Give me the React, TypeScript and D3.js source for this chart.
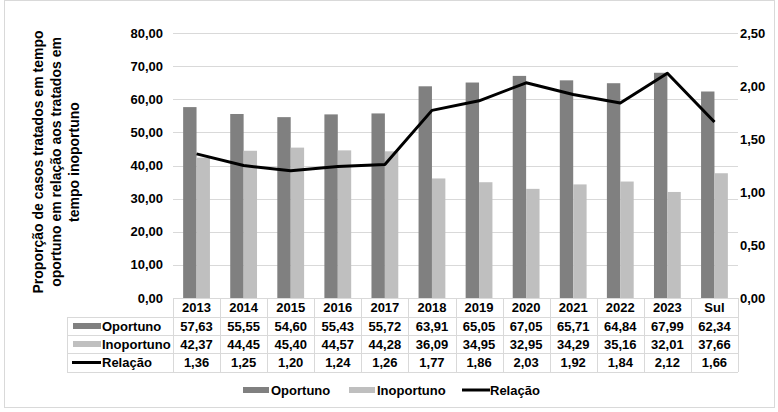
import React, { useEffect, useRef } from 'react';
import * as d3 from 'd3';

const categories = ['2013', '2014', '2015', '2016', '2017', '2018', '2019', '2020', '2021', '2022', '2023', 'Sul'];
const oportuno = [57.63, 55.55, 54.6, 55.43, 55.72, 63.91, 65.05, 67.05, 65.71, 64.84, 67.99, 62.34];
const inoportuno = [42.37, 44.45, 45.4, 44.57, 44.28, 36.09, 34.95, 32.95, 34.29, 35.16, 32.01, 37.66];
const relacao = [1.36, 1.25, 1.2, 1.24, 1.26, 1.77, 1.86, 2.03, 1.92, 1.84, 2.12, 1.66];
const leftTicks = [0, 10, 20, 30, 40, 50, 60, 70, 80];
const rightTicks = [0, 0.5, 1, 1.5, 2, 2.5];
const titleLines = ['Proporção de casos tratados em tempo', 'oportuno em relação aos tratados em', 'tempo inoportuno'];

const W = 778;
const H = 412;
const plotL = 173;
const plotR = 738;
const plotT = 33;
const plotB = 298;
const FONT = '"Liberation Sans", Arial, Helvetica, sans-serif';
const DARK = '#808080';
const LIGHT = '#bfbfbf';
const GRID = '#d9d9d9';

const fmt = (v: number) => v.toFixed(2).replace('.', ',');

const App = () => {
  const svgRef = useRef<SVGSVGElement>(null);

  useEffect(() => {
    const svg = d3.select(svgRef.current);
    svg.selectAll('*').remove();

    const x = d3.scaleBand().domain(categories).range([plotL, plotR]).padding(0);
    const y = d3.scaleLinear().domain([0, 80]).range([plotB, plotT]);
    const y2 = d3.scaleLinear().domain([0, 2.5]).range([plotB, plotT]);
    const bw = 13.4;

    // outer frame
    svg.append('rect').attr('x', 4.5).attr('y', 0.5).attr('width', 770).attr('height', 407)
      .attr('fill', '#fff').attr('stroke', '#d9d9d9');

    // grid
    svg.append('g').selectAll('line').data(leftTicks.filter((d) => d > 0)).join('line')
      .attr('x1', plotL).attr('x2', plotR)
      .attr('y1', (d) => Math.round(y(d)) + 0.5).attr('y2', (d) => Math.round(y(d)) + 0.5)
      .attr('stroke', GRID);

    // left axis labels
    svg.append('g').selectAll('text').data(leftTicks).join('text')
      .attr('x', 163).attr('y', (d) => y(d)).attr('dy', '0.35em')
      .attr('text-anchor', 'end').attr('font-size', 13).attr('font-weight', 'bold')
      .attr('font-family', FONT).text((d) => fmt(d));

    // right axis labels
    svg.append('g').selectAll('text').data(rightTicks).join('text')
      .attr('x', 740).attr('y', (d) => y2(d)).attr('dy', '0.35em')
      .attr('text-anchor', 'start').attr('font-size', 13).attr('font-weight', 'bold')
      .attr('font-family', FONT).text((d) => fmt(d));

    // title
    const t = svg.append('text').attr('transform', 'translate(38,162) rotate(-90)')
      .attr('text-anchor', 'middle').attr('font-size', 14).attr('font-weight', 'bold')
      .attr('font-family', FONT);
    titleLines.forEach((l, i) => {
      t.append('tspan').attr('x', 0).attr('dy', i === 0 ? '0.35em' : 18).text(l);
    });

    // bars
    const bars = svg.append('g');
    bars.selectAll('rect.op').data(categories).join('rect')
      .attr('x', (d) => x(d)! + x.bandwidth() / 2 - bw)
      .attr('width', bw)
      .attr('y', (d, i) => y(oportuno[i]))
      .attr('height', (d, i) => plotB - y(oportuno[i]))
      .attr('fill', DARK);
    bars.selectAll('rect.in').data(categories).join('rect')
      .attr('x', (d) => x(d)! + x.bandwidth() / 2)
      .attr('width', bw)
      .attr('y', (d, i) => y(inoportuno[i]))
      .attr('height', (d, i) => plotB - y(inoportuno[i]))
      .attr('fill', LIGHT);

    // line
    const line = d3.line<number>()
      .x((d, i) => x(categories[i])! + x.bandwidth() / 2)
      .y((d) => y2(d));
    svg.append('path').datum(relacao).attr('d', line).attr('fill', 'none')
      .attr('stroke', '#000').attr('stroke-width', 3).attr('stroke-linejoin', 'round');

    // data table
    const rowY = [298, 317, 335, 353, 372];
    const tableL = 67;
    const tbl = svg.append('g');
    // horizontal borders
    tbl.append('line').attr('x1', plotL).attr('x2', plotR).attr('y1', rowY[0] + 0.5).attr('y2', rowY[0] + 0.5).attr('stroke', GRID);
    rowY.slice(1).forEach((ry) => {
      tbl.append('line').attr('x1', tableL).attr('x2', plotR).attr('y1', ry + 0.5).attr('y2', ry + 0.5).attr('stroke', GRID);
    });
    // vertical borders
    const edges = categories.map((c) => x(c)!).concat([plotR]);
    tbl.selectAll('line.v').data(edges).join('line')
      .attr('x1', (d) => Math.round(d) + 0.5).attr('x2', (d) => Math.round(d) + 0.5)
      .attr('y1', rowY[0]).attr('y2', rowY[4]).attr('stroke', GRID);
    tbl.append('line').attr('x1', tableL + 0.5).attr('x2', tableL + 0.5)
      .attr('y1', rowY[1]).attr('y2', rowY[4]).attr('stroke', GRID);

    const rows: (string[])[] = [
      categories,
      oportuno.map(fmt),
      inoportuno.map(fmt),
      relacao.map(fmt),
    ];
    rows.forEach((r, ri) => {
      tbl.append('g').selectAll('text').data(r).join('text')
        .attr('x', (d, i) => x(categories[i])! + x.bandwidth() / 2)
        .attr('y', (rowY[ri] + rowY[ri + 1]) / 2).attr('dy', '0.36em')
        .attr('text-anchor', 'middle').attr('font-size', 13).attr('font-weight', 'bold')
        .attr('font-family', FONT).text((d) => d);
    });

    const series = [
      { name: 'Oportuno', color: DARK, type: 'bar' },
      { name: 'Inoportuno', color: LIGHT, type: 'bar' },
      { name: 'Relação', color: '#000', type: 'line' },
    ];
    series.forEach((s, i) => {
      const cy = (rowY[i + 1] + rowY[i + 2]) / 2;
      if (s.type === 'bar') {
        tbl.append('rect').attr('x', 73).attr('y', cy - 3).attr('width', 28).attr('height', 6).attr('fill', s.color);
      } else {
        tbl.append('line').attr('x1', 72).attr('x2', 101).attr('y1', cy).attr('y2', cy).attr('stroke', s.color).attr('stroke-width', 3);
      }
      tbl.append('text').attr('x', 102).attr('y', cy).attr('dy', '0.36em')
        .attr('font-size', 13).attr('font-weight', 'bold').attr('font-family', FONT).text(s.name);
    });

    // legend
    const legY = 390;
    const legX = [243, 349, 462];
    const leg = svg.append('g');
    series.forEach((s, i) => {
      if (s.type === 'bar') {
        leg.append('rect').attr('x', legX[i]).attr('y', legY - 3).attr('width', 26).attr('height', 6).attr('fill', s.color);
      } else {
        leg.append('line').attr('x1', legX[i]).attr('x2', legX[i] + 28).attr('y1', legY).attr('y2', legY).attr('stroke', s.color).attr('stroke-width', 3);
      }
      leg.append('text').attr('x', legX[i] + 28).attr('y', legY).attr('dy', '0.36em')
        .attr('font-size', 13).attr('font-weight', 'bold').attr('font-family', FONT).text(s.name);
    });
  }, []);

  return (
    <svg
      ref={svgRef}
      width={W}
      height={H}
      viewBox={`0 0 ${W} ${H}`}
      style={{ position: 'absolute', left: 0, top: 0, background: '#fff' }}
    />
  );
};

export default App;
